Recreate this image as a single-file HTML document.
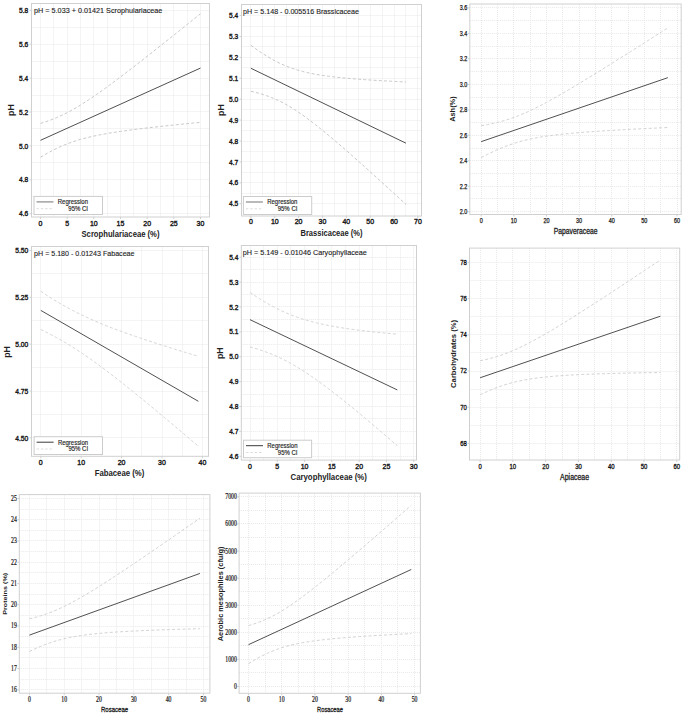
<!DOCTYPE html>
<html><head><meta charset="utf-8"><style>
html,body{margin:0;padding:0;background:#fff;}
body{width:685px;height:714px;overflow:hidden;}
svg{display:block;}

</style></head><body>
<svg width="685" height="714" viewBox="0 0 685 714">
<rect width="685" height="714" fill="#fff"/>
<path d="M40.50 3.50V217.00M53.50 3.50V217.00M67.50 3.50V217.00M80.50 3.50V217.00M93.50 3.50V217.00M107.50 3.50V217.00M120.50 3.50V217.00M133.50 3.50V217.00M147.50 3.50V217.00M160.50 3.50V217.00M173.50 3.50V217.00M187.50 3.50V217.00M200.50 3.50V217.00M31.50 213.50H209.50M31.50 196.50H209.50M31.50 179.50H209.50M31.50 162.50H209.50M31.50 145.50H209.50M31.50 128.50H209.50M31.50 111.50H209.50M31.50 95.50H209.50M31.50 78.50H209.50M31.50 61.50H209.50M31.50 44.50H209.50M31.50 27.50H209.50M31.50 10.50H209.50" stroke="#e9e9e9" stroke-width="1" stroke-dasharray="1 1" fill="none"/>
<rect x="31.50" y="3.50" width="178.00" height="213.50" fill="none" stroke="#d0d0d0" stroke-width="1"/>
<path d="M40.50 217.00v2M67.17 217.00v2M93.83 217.00v2M120.50 217.00v2M147.17 217.00v2M173.83 217.00v2M200.50 217.00v2M31.50 213.70h-2M31.50 179.80h-2M31.50 145.90h-2M31.50 112.00h-2M31.50 78.10h-2M31.50 44.20h-2M31.50 10.30h-2" stroke="#d0d0d0" stroke-width="1" fill="none"/>
<text x="40.50" y="226.03" font-size="7.5" text-anchor="middle" font-weight="normal" fill="#1a1a1a" font-family="Liberation Sans" stroke="#1a1a1a" stroke-width="0.4" textLength="3.88" lengthAdjust="spacingAndGlyphs" >0</text>
<text x="67.17" y="226.03" font-size="7.5" text-anchor="middle" font-weight="normal" fill="#1a1a1a" font-family="Liberation Sans" stroke="#1a1a1a" stroke-width="0.4" textLength="3.88" lengthAdjust="spacingAndGlyphs" >5</text>
<text x="93.83" y="226.03" font-size="7.5" text-anchor="middle" font-weight="normal" fill="#1a1a1a" font-family="Liberation Sans" stroke="#1a1a1a" stroke-width="0.4" textLength="7.76" lengthAdjust="spacingAndGlyphs" >10</text>
<text x="120.50" y="226.03" font-size="7.5" text-anchor="middle" font-weight="normal" fill="#1a1a1a" font-family="Liberation Sans" stroke="#1a1a1a" stroke-width="0.4" textLength="7.76" lengthAdjust="spacingAndGlyphs" >15</text>
<text x="147.17" y="226.03" font-size="7.5" text-anchor="middle" font-weight="normal" fill="#1a1a1a" font-family="Liberation Sans" stroke="#1a1a1a" stroke-width="0.4" textLength="7.76" lengthAdjust="spacingAndGlyphs" >20</text>
<text x="173.83" y="226.03" font-size="7.5" text-anchor="middle" font-weight="normal" fill="#1a1a1a" font-family="Liberation Sans" stroke="#1a1a1a" stroke-width="0.4" textLength="7.76" lengthAdjust="spacingAndGlyphs" >25</text>
<text x="200.50" y="226.03" font-size="7.5" text-anchor="middle" font-weight="normal" fill="#1a1a1a" font-family="Liberation Sans" stroke="#1a1a1a" stroke-width="0.4" textLength="7.76" lengthAdjust="spacingAndGlyphs" >30</text>
<text x="28.20" y="216.32" font-size="7.5" text-anchor="end" font-weight="normal" fill="#1a1a1a" font-family="Liberation Sans" stroke="#1a1a1a" stroke-width="0.4" textLength="9.15" lengthAdjust="spacingAndGlyphs" >4.6</text>
<text x="28.20" y="182.42" font-size="7.5" text-anchor="end" font-weight="normal" fill="#1a1a1a" font-family="Liberation Sans" stroke="#1a1a1a" stroke-width="0.4" textLength="9.15" lengthAdjust="spacingAndGlyphs" >4.8</text>
<text x="28.20" y="148.52" font-size="7.5" text-anchor="end" font-weight="normal" fill="#1a1a1a" font-family="Liberation Sans" stroke="#1a1a1a" stroke-width="0.4" textLength="9.15" lengthAdjust="spacingAndGlyphs" >5.0</text>
<text x="28.20" y="114.62" font-size="7.5" text-anchor="end" font-weight="normal" fill="#1a1a1a" font-family="Liberation Sans" stroke="#1a1a1a" stroke-width="0.4" textLength="9.15" lengthAdjust="spacingAndGlyphs" >5.2</text>
<text x="28.20" y="80.72" font-size="7.5" text-anchor="end" font-weight="normal" fill="#1a1a1a" font-family="Liberation Sans" stroke="#1a1a1a" stroke-width="0.4" textLength="9.15" lengthAdjust="spacingAndGlyphs" >5.4</text>
<text x="28.20" y="46.83" font-size="7.5" text-anchor="end" font-weight="normal" fill="#1a1a1a" font-family="Liberation Sans" stroke="#1a1a1a" stroke-width="0.4" textLength="9.15" lengthAdjust="spacingAndGlyphs" >5.6</text>
<text x="28.20" y="12.93" font-size="7.5" text-anchor="end" font-weight="normal" fill="#1a1a1a" font-family="Liberation Sans" stroke="#1a1a1a" stroke-width="0.4" textLength="9.15" lengthAdjust="spacingAndGlyphs" >5.8</text>
<polyline points="40.50,123.39 43.17,122.57 45.83,121.71 48.50,120.79 51.17,119.81 53.83,118.77 56.50,117.68 59.17,116.52 61.83,115.29 64.50,114.01 67.17,112.66 69.83,111.25 72.50,109.78 75.17,108.26 77.83,106.69 80.50,105.06 83.17,103.40 85.83,101.69 88.50,99.94 91.17,98.15 93.83,96.34 96.50,94.49 99.17,92.62 101.83,90.73 104.50,88.81 107.17,86.87 109.83,84.91 112.50,82.94 115.17,80.96 117.83,78.95 120.50,76.94 123.17,74.92 125.83,72.88 128.50,70.84 131.17,68.78 133.83,66.72 136.50,64.65 139.17,62.58 141.83,60.50 144.50,58.41 147.17,56.32 149.83,54.22 152.50,52.12 155.17,50.01 157.83,47.90 160.50,45.78 163.17,43.67 165.83,41.54 168.50,39.42 171.17,37.29 173.83,35.16 176.50,33.03 179.17,30.89 181.83,28.76 184.50,26.62 187.17,24.48 189.83,22.33 192.50,20.19 195.17,18.04 197.83,15.89 200.50,13.74" fill="none" stroke="#c8c8c8" stroke-width="1" stroke-dasharray="3 2.2"/>
<polyline points="40.50,157.23 43.17,155.63 45.83,154.09 48.50,152.60 51.17,151.17 53.83,149.80 56.50,148.48 59.17,147.24 61.83,146.05 64.50,144.93 67.17,143.87 69.83,142.87 72.50,141.93 75.17,141.04 77.83,140.21 80.50,139.42 83.17,138.68 85.83,137.98 88.50,137.32 91.17,136.70 93.83,136.10 96.50,135.54 99.17,135.00 101.83,134.49 104.50,134.00 107.17,133.53 109.83,133.07 112.50,132.64 115.17,132.22 117.83,131.81 120.50,131.41 123.17,131.03 125.83,130.66 128.50,130.29 131.17,129.94 133.83,129.59 136.50,129.25 139.17,128.92 141.83,128.59 144.50,128.27 147.17,127.95 149.83,127.64 152.50,127.34 155.17,127.03 157.83,126.74 160.50,126.44 163.17,126.15 165.83,125.87 168.50,125.58 171.17,125.30 173.83,125.02 176.50,124.75 179.17,124.47 181.83,124.20 184.50,123.93 187.17,123.66 189.83,123.40 192.50,123.14 195.17,122.87 197.83,122.61 200.50,122.35" fill="none" stroke="#c8c8c8" stroke-width="1" stroke-dasharray="3 2.2"/>
<line x1="40.50" y1="140.31" x2="200.50" y2="68.05" stroke="#505050" stroke-width="1"/>
<text x="34.10" y="13.10" font-size="8.1" text-anchor="start" font-weight="normal" fill="#1a1a1a" font-family="Liberation Sans" stroke="#1a1a1a" stroke-width="0.12" textLength="128.30" lengthAdjust="spacingAndGlyphs" >pH = 5.033 + 0.01421 Scrophulariaceae</text>
<rect x="34.00" y="196.40" width="68.50" height="18.10" fill="#fff" stroke="#cccccc" stroke-width="1"/>
<line x1="36.50" y1="201.90" x2="53.50" y2="201.90" stroke="#8a8a8a" stroke-width="1.2"/>
<line x1="36.50" y1="208.70" x2="53.50" y2="208.70" stroke="#dcdcdc" stroke-width="1" stroke-dasharray="2.5 1.8"/>
<text x="88.00" y="204.30" font-size="6.6" text-anchor="end" font-weight="normal" fill="#222" font-family="Liberation Sans" stroke="#222" stroke-width="0.15" textLength="30.20" lengthAdjust="spacingAndGlyphs" >Regression</text>
<text x="88.00" y="211.00" font-size="6.6" text-anchor="end" font-weight="normal" fill="#222" font-family="Liberation Sans" stroke="#222" stroke-width="0.15" textLength="19.70" lengthAdjust="spacingAndGlyphs" >95% CI</text>
<text x="120.50" y="237.00" font-size="9" text-anchor="middle" font-weight="bold" fill="#222" font-family="Liberation Sans" textLength="78.00" lengthAdjust="spacingAndGlyphs" >Scrophulariaceae (%)</text>
<text x="13.60" y="110.00" font-size="8.8" text-anchor="middle" font-weight="bold" fill="#222" font-family="Liberation Sans" transform="rotate(-90 13.60 110.00)" >pH</text>
<path d="M250.50 4.50V216.00M262.50 4.50V216.00M274.50 4.50V216.00M286.50 4.50V216.00M298.50 4.50V216.00M310.50 4.50V216.00M322.50 4.50V216.00M334.50 4.50V216.00M346.50 4.50V216.00M358.50 4.50V216.00M370.50 4.50V216.00M382.50 4.50V216.00M394.50 4.50V216.00M405.50 4.50V216.00M417.50 4.50V216.00M241.50 203.50H421.50M241.50 193.50H421.50M241.50 182.50H421.50M241.50 172.50H421.50M241.50 161.50H421.50M241.50 151.50H421.50M241.50 141.50H421.50M241.50 130.50H421.50M241.50 120.50H421.50M241.50 109.50H421.50M241.50 99.50H421.50M241.50 88.50H421.50M241.50 78.50H421.50M241.50 67.50H421.50M241.50 57.50H421.50M241.50 46.50H421.50M241.50 36.50H421.50M241.50 26.50H421.50M241.50 15.50H421.50" stroke="#e9e9e9" stroke-width="1" stroke-dasharray="1 1" fill="none"/>
<rect x="241.50" y="4.50" width="180.00" height="211.50" fill="none" stroke="#d0d0d0" stroke-width="1"/>
<path d="M250.90 216.00v2M274.76 216.00v2M298.61 216.00v2M322.47 216.00v2M346.33 216.00v2M370.19 216.00v2M394.04 216.00v2M417.90 216.00v2M241.50 203.70h-2M241.50 182.80h-2M241.50 161.90h-2M241.50 141.00h-2M241.50 120.10h-2M241.50 99.20h-2M241.50 78.30h-2M241.50 57.40h-2M241.50 36.50h-2M241.50 15.60h-2" stroke="#d0d0d0" stroke-width="1" fill="none"/>
<text x="250.90" y="224.12" font-size="7.5" text-anchor="middle" font-weight="normal" fill="#1a1a1a" font-family="Liberation Sans" stroke="#1a1a1a" stroke-width="0.4" textLength="3.88" lengthAdjust="spacingAndGlyphs" >0</text>
<text x="274.76" y="224.12" font-size="7.5" text-anchor="middle" font-weight="normal" fill="#1a1a1a" font-family="Liberation Sans" stroke="#1a1a1a" stroke-width="0.4" textLength="7.76" lengthAdjust="spacingAndGlyphs" >10</text>
<text x="298.61" y="224.12" font-size="7.5" text-anchor="middle" font-weight="normal" fill="#1a1a1a" font-family="Liberation Sans" stroke="#1a1a1a" stroke-width="0.4" textLength="7.76" lengthAdjust="spacingAndGlyphs" >20</text>
<text x="322.47" y="224.12" font-size="7.5" text-anchor="middle" font-weight="normal" fill="#1a1a1a" font-family="Liberation Sans" stroke="#1a1a1a" stroke-width="0.4" textLength="7.76" lengthAdjust="spacingAndGlyphs" >30</text>
<text x="346.33" y="224.12" font-size="7.5" text-anchor="middle" font-weight="normal" fill="#1a1a1a" font-family="Liberation Sans" stroke="#1a1a1a" stroke-width="0.4" textLength="7.76" lengthAdjust="spacingAndGlyphs" >40</text>
<text x="370.19" y="224.12" font-size="7.5" text-anchor="middle" font-weight="normal" fill="#1a1a1a" font-family="Liberation Sans" stroke="#1a1a1a" stroke-width="0.4" textLength="7.76" lengthAdjust="spacingAndGlyphs" >50</text>
<text x="394.04" y="224.12" font-size="7.5" text-anchor="middle" font-weight="normal" fill="#1a1a1a" font-family="Liberation Sans" stroke="#1a1a1a" stroke-width="0.4" textLength="7.76" lengthAdjust="spacingAndGlyphs" >60</text>
<text x="417.90" y="224.12" font-size="7.5" text-anchor="middle" font-weight="normal" fill="#1a1a1a" font-family="Liberation Sans" stroke="#1a1a1a" stroke-width="0.4" textLength="7.76" lengthAdjust="spacingAndGlyphs" >70</text>
<text x="238.20" y="206.32" font-size="7.5" text-anchor="end" font-weight="normal" fill="#1a1a1a" font-family="Liberation Sans" stroke="#1a1a1a" stroke-width="0.4" textLength="9.15" lengthAdjust="spacingAndGlyphs" >4.5</text>
<text x="238.20" y="185.43" font-size="7.5" text-anchor="end" font-weight="normal" fill="#1a1a1a" font-family="Liberation Sans" stroke="#1a1a1a" stroke-width="0.4" textLength="9.15" lengthAdjust="spacingAndGlyphs" >4.6</text>
<text x="238.20" y="164.52" font-size="7.5" text-anchor="end" font-weight="normal" fill="#1a1a1a" font-family="Liberation Sans" stroke="#1a1a1a" stroke-width="0.4" textLength="9.15" lengthAdjust="spacingAndGlyphs" >4.7</text>
<text x="238.20" y="143.63" font-size="7.5" text-anchor="end" font-weight="normal" fill="#1a1a1a" font-family="Liberation Sans" stroke="#1a1a1a" stroke-width="0.4" textLength="9.15" lengthAdjust="spacingAndGlyphs" >4.8</text>
<text x="238.20" y="122.72" font-size="7.5" text-anchor="end" font-weight="normal" fill="#1a1a1a" font-family="Liberation Sans" stroke="#1a1a1a" stroke-width="0.4" textLength="9.15" lengthAdjust="spacingAndGlyphs" >4.9</text>
<text x="238.20" y="101.83" font-size="7.5" text-anchor="end" font-weight="normal" fill="#1a1a1a" font-family="Liberation Sans" stroke="#1a1a1a" stroke-width="0.4" textLength="9.15" lengthAdjust="spacingAndGlyphs" >5.0</text>
<text x="238.20" y="80.93" font-size="7.5" text-anchor="end" font-weight="normal" fill="#1a1a1a" font-family="Liberation Sans" stroke="#1a1a1a" stroke-width="0.4" textLength="9.15" lengthAdjust="spacingAndGlyphs" >5.1</text>
<text x="238.20" y="60.03" font-size="7.5" text-anchor="end" font-weight="normal" fill="#1a1a1a" font-family="Liberation Sans" stroke="#1a1a1a" stroke-width="0.4" textLength="9.15" lengthAdjust="spacingAndGlyphs" >5.2</text>
<text x="238.20" y="39.13" font-size="7.5" text-anchor="end" font-weight="normal" fill="#1a1a1a" font-family="Liberation Sans" stroke="#1a1a1a" stroke-width="0.4" textLength="9.15" lengthAdjust="spacingAndGlyphs" >5.3</text>
<text x="238.20" y="18.23" font-size="7.5" text-anchor="end" font-weight="normal" fill="#1a1a1a" font-family="Liberation Sans" stroke="#1a1a1a" stroke-width="0.4" textLength="9.15" lengthAdjust="spacingAndGlyphs" >5.4</text>
<polyline points="250.90,45.28 253.48,47.18 256.07,49.03 258.65,50.84 261.24,52.59 263.82,54.28 266.41,55.91 268.99,57.48 271.58,58.98 274.16,60.41 276.75,61.76 279.33,63.05 281.91,64.25 284.50,65.39 287.08,66.45 289.67,67.44 292.25,68.36 294.84,69.22 297.42,70.02 300.01,70.76 302.59,71.45 305.18,72.09 307.76,72.69 310.34,73.24 312.93,73.76 315.51,74.24 318.10,74.69 320.68,75.11 323.27,75.50 325.85,75.87 328.44,76.22 331.02,76.55 333.60,76.86 336.19,77.16 338.77,77.44 341.36,77.71 343.94,77.96 346.53,78.20 349.11,78.43 351.70,78.65 354.28,78.87 356.87,79.07 359.45,79.27 362.03,79.46 364.62,79.64 367.20,79.82 369.79,79.99 372.37,80.16 374.96,80.32 377.54,80.47 380.13,80.63 382.71,80.77 385.30,80.92 387.88,81.06 390.46,81.20 393.05,81.33 395.63,81.46 398.22,81.59 400.80,81.72 403.39,81.84 405.97,81.96" fill="none" stroke="#c8c8c8" stroke-width="1" stroke-dasharray="3 2.2"/>
<polyline points="250.90,91.25 253.48,91.85 256.07,92.50 258.65,93.19 261.24,93.94 263.82,94.74 266.41,95.61 268.99,96.54 271.58,97.54 274.16,98.61 276.75,99.75 279.33,100.97 281.91,102.26 284.50,103.62 287.08,105.06 289.67,106.56 292.25,108.14 294.84,109.78 297.42,111.47 300.01,113.23 302.59,115.04 305.18,116.90 307.76,118.80 310.34,120.75 312.93,122.73 315.51,124.75 318.10,126.79 320.68,128.87 323.27,130.97 325.85,133.10 328.44,135.25 331.02,137.42 333.60,139.60 336.19,141.81 338.77,144.02 341.36,146.25 343.94,148.50 346.53,150.75 349.11,153.02 351.70,155.30 354.28,157.58 356.87,159.87 359.45,162.18 362.03,164.48 364.62,166.80 367.20,169.12 369.79,171.45 372.37,173.78 374.96,176.11 377.54,178.46 380.13,180.80 382.71,183.15 385.30,185.50 387.88,187.86 390.46,190.22 393.05,192.58 395.63,194.95 398.22,197.32 400.80,199.69 403.39,202.07 405.97,204.44" fill="none" stroke="#c8c8c8" stroke-width="1" stroke-dasharray="3 2.2"/>
<line x1="250.90" y1="68.27" x2="405.97" y2="143.20" stroke="#505050" stroke-width="1"/>
<text x="243.00" y="13.50" font-size="8.1" text-anchor="start" font-weight="normal" fill="#1a1a1a" font-family="Liberation Sans" stroke="#1a1a1a" stroke-width="0.12" textLength="116.00" lengthAdjust="spacingAndGlyphs" >pH = 5.148 - 0.005516 Brassicaceae</text>
<rect x="243.40" y="196.50" width="68.30" height="18.00" fill="#fff" stroke="#cccccc" stroke-width="1"/>
<line x1="245.90" y1="202.00" x2="262.90" y2="202.00" stroke="#8a8a8a" stroke-width="1.2"/>
<line x1="245.90" y1="208.80" x2="262.90" y2="208.80" stroke="#dcdcdc" stroke-width="1" stroke-dasharray="2.5 1.8"/>
<text x="297.40" y="204.40" font-size="6.6" text-anchor="end" font-weight="normal" fill="#222" font-family="Liberation Sans" stroke="#222" stroke-width="0.15" textLength="30.20" lengthAdjust="spacingAndGlyphs" >Regression</text>
<text x="297.40" y="211.10" font-size="6.6" text-anchor="end" font-weight="normal" fill="#222" font-family="Liberation Sans" stroke="#222" stroke-width="0.15" textLength="19.70" lengthAdjust="spacingAndGlyphs" >95% CI</text>
<text x="331.50" y="235.50" font-size="9" text-anchor="middle" font-weight="bold" fill="#222" font-family="Liberation Sans" textLength="62.00" lengthAdjust="spacingAndGlyphs" >Brassicaceae (%)</text>
<text x="223.80" y="110.00" font-size="8.8" text-anchor="middle" font-weight="bold" fill="#222" font-family="Liberation Sans" transform="rotate(-90 223.80 110.00)" >pH</text>
<path d="M481.50 4.00V214.50M497.50 4.00V214.50M513.50 4.00V214.50M530.50 4.00V214.50M546.50 4.00V214.50M562.50 4.00V214.50M579.50 4.00V214.50M595.50 4.00V214.50M611.50 4.00V214.50M628.50 4.00V214.50M644.50 4.00V214.50M660.50 4.00V214.50M677.50 4.00V214.50M469.80 211.50H681.20M469.80 198.50H681.20M469.80 186.50H681.20M469.80 173.50H681.20M469.80 160.50H681.20M469.80 148.50H681.20M469.80 135.50H681.20M469.80 122.50H681.20M469.80 109.50H681.20M469.80 97.50H681.20M469.80 84.50H681.20M469.80 71.50H681.20M469.80 58.50H681.20M469.80 46.50H681.20M469.80 33.50H681.20M469.80 20.50H681.20M469.80 7.50H681.20" stroke="#e9e9e9" stroke-width="1" stroke-dasharray="1 1" fill="none"/>
<rect x="469.80" y="4.00" width="211.40" height="210.50" fill="none" stroke="#d0d0d0" stroke-width="1"/>
<path d="M481.20 214.50v2M513.83 214.50v2M546.47 214.50v2M579.10 214.50v2M611.73 214.50v2M644.37 214.50v2M677.00 214.50v2M469.80 211.70h-2M469.80 186.22h-2M469.80 160.75h-2M469.80 135.27h-2M469.80 109.80h-2M469.80 84.33h-2M469.80 58.85h-2M469.80 33.38h-2M469.80 7.90h-2" stroke="#d0d0d0" stroke-width="1" fill="none"/>
<text x="481.20" y="223.12" font-size="7.2" text-anchor="middle" font-weight="normal" fill="#111" font-family="Liberation Sans" stroke="#111" stroke-width="0.25" textLength="3.04" lengthAdjust="spacingAndGlyphs" >0</text>
<text x="513.83" y="223.12" font-size="7.2" text-anchor="middle" font-weight="normal" fill="#111" font-family="Liberation Sans" stroke="#111" stroke-width="0.25" textLength="6.08" lengthAdjust="spacingAndGlyphs" >10</text>
<text x="546.47" y="223.12" font-size="7.2" text-anchor="middle" font-weight="normal" fill="#111" font-family="Liberation Sans" stroke="#111" stroke-width="0.25" textLength="6.08" lengthAdjust="spacingAndGlyphs" >20</text>
<text x="579.10" y="223.12" font-size="7.2" text-anchor="middle" font-weight="normal" fill="#111" font-family="Liberation Sans" stroke="#111" stroke-width="0.25" textLength="6.08" lengthAdjust="spacingAndGlyphs" >30</text>
<text x="611.73" y="223.12" font-size="7.2" text-anchor="middle" font-weight="normal" fill="#111" font-family="Liberation Sans" stroke="#111" stroke-width="0.25" textLength="6.08" lengthAdjust="spacingAndGlyphs" >40</text>
<text x="644.37" y="223.12" font-size="7.2" text-anchor="middle" font-weight="normal" fill="#111" font-family="Liberation Sans" stroke="#111" stroke-width="0.25" textLength="6.08" lengthAdjust="spacingAndGlyphs" >50</text>
<text x="677.00" y="223.12" font-size="7.2" text-anchor="middle" font-weight="normal" fill="#111" font-family="Liberation Sans" stroke="#111" stroke-width="0.25" textLength="6.08" lengthAdjust="spacingAndGlyphs" >60</text>
<text x="467.30" y="214.22" font-size="7.2" text-anchor="end" font-weight="normal" fill="#111" font-family="Liberation Sans" stroke="#111" stroke-width="0.25" textLength="7.56" lengthAdjust="spacingAndGlyphs" >2.0</text>
<text x="467.30" y="188.74" font-size="7.2" text-anchor="end" font-weight="normal" fill="#111" font-family="Liberation Sans" stroke="#111" stroke-width="0.25" textLength="7.56" lengthAdjust="spacingAndGlyphs" >2.2</text>
<text x="467.30" y="163.27" font-size="7.2" text-anchor="end" font-weight="normal" fill="#111" font-family="Liberation Sans" stroke="#111" stroke-width="0.25" textLength="7.56" lengthAdjust="spacingAndGlyphs" >2.4</text>
<text x="467.30" y="137.79" font-size="7.2" text-anchor="end" font-weight="normal" fill="#111" font-family="Liberation Sans" stroke="#111" stroke-width="0.25" textLength="7.56" lengthAdjust="spacingAndGlyphs" >2.6</text>
<text x="467.30" y="112.32" font-size="7.2" text-anchor="end" font-weight="normal" fill="#111" font-family="Liberation Sans" stroke="#111" stroke-width="0.25" textLength="7.56" lengthAdjust="spacingAndGlyphs" >2.8</text>
<text x="467.30" y="86.84" font-size="7.2" text-anchor="end" font-weight="normal" fill="#111" font-family="Liberation Sans" stroke="#111" stroke-width="0.25" textLength="7.56" lengthAdjust="spacingAndGlyphs" >3.0</text>
<text x="467.30" y="61.37" font-size="7.2" text-anchor="end" font-weight="normal" fill="#111" font-family="Liberation Sans" stroke="#111" stroke-width="0.25" textLength="7.56" lengthAdjust="spacingAndGlyphs" >3.2</text>
<text x="467.30" y="35.90" font-size="7.2" text-anchor="end" font-weight="normal" fill="#111" font-family="Liberation Sans" stroke="#111" stroke-width="0.25" textLength="7.56" lengthAdjust="spacingAndGlyphs" >3.4</text>
<text x="467.30" y="10.42" font-size="7.2" text-anchor="end" font-weight="normal" fill="#111" font-family="Liberation Sans" stroke="#111" stroke-width="0.25" textLength="7.56" lengthAdjust="spacingAndGlyphs" >3.6</text>
<polyline points="481.20,125.74 484.31,125.20 487.42,124.63 490.53,124.01 493.64,123.34 496.76,122.61 499.87,121.82 502.98,120.97 506.09,120.05 509.20,119.07 512.31,118.01 515.42,116.89 518.53,115.69 521.64,114.43 524.75,113.10 527.87,111.72 530.98,110.27 534.09,108.77 537.20,107.23 540.31,105.64 543.42,104.02 546.53,102.35 549.64,100.66 552.75,98.94 555.87,97.19 558.98,95.42 562.09,93.62 565.20,91.81 568.31,89.99 571.42,88.15 574.53,86.29 577.64,84.42 580.75,82.55 583.86,80.66 586.98,78.76 590.09,76.86 593.20,74.95 596.31,73.03 599.42,71.10 602.53,69.17 605.64,67.24 608.75,65.29 611.86,63.35 614.97,61.40 618.09,59.45 621.20,57.49 624.31,55.53 627.42,53.57 630.53,51.60 633.64,49.64 636.75,47.66 639.86,45.69 642.97,43.72 646.09,41.74 649.20,39.76 652.31,37.78 655.42,35.80 658.53,33.81 661.64,31.83 664.75,29.84 667.86,27.85" fill="none" stroke="#d3d3d3" stroke-width="1" stroke-dasharray="3 2.2"/>
<polyline points="481.20,157.55 484.31,155.95 487.42,154.39 490.53,152.88 493.64,151.42 496.76,150.02 499.87,148.67 502.98,147.39 506.09,146.17 509.20,145.03 512.31,143.95 515.42,142.94 518.53,142.01 521.64,141.14 524.75,140.33 527.87,139.59 530.98,138.90 534.09,138.26 537.20,137.68 540.31,137.13 543.42,136.63 546.53,136.16 549.64,135.72 552.75,135.31 555.87,134.92 558.98,134.56 562.09,134.22 565.20,133.90 568.31,133.60 571.42,133.30 574.53,133.03 577.64,132.76 580.75,132.51 583.86,132.26 586.98,132.03 590.09,131.80 593.20,131.58 596.31,131.36 599.42,131.16 602.53,130.96 605.64,130.76 608.75,130.57 611.86,130.38 614.97,130.20 618.09,130.02 621.20,129.84 624.31,129.67 627.42,129.50 630.53,129.33 633.64,129.17 636.75,129.01 639.86,128.85 642.97,128.69 646.09,128.53 649.20,128.38 652.31,128.23 655.42,128.08 658.53,127.93 661.64,127.78 664.75,127.64 667.86,127.49" fill="none" stroke="#d3d3d3" stroke-width="1" stroke-dasharray="3 2.2"/>
<line x1="481.20" y1="141.64" x2="667.86" y2="77.67" stroke="#505050" stroke-width="1"/>
<text x="575.60" y="234.00" font-size="8.2" text-anchor="middle" font-weight="normal" fill="#222" font-family="Liberation Sans" stroke="#222" stroke-width="0.3" textLength="43.70" lengthAdjust="spacingAndGlyphs" >Papaveraceae</text>
<text x="455.50" y="109.10" font-size="7.4" text-anchor="middle" font-weight="bold" fill="#222" font-family="Liberation Sans" textLength="25.50" lengthAdjust="spacingAndGlyphs" transform="rotate(-90 455.50 109.10)" >Ash(%)</text>
<path d="M40.50 246.50V456.30M61.50 246.50V456.30M81.50 246.50V456.30M101.50 246.50V456.30M121.50 246.50V456.30M141.50 246.50V456.30M162.50 246.50V456.30M182.50 246.50V456.30M202.50 246.50V456.30M31.50 437.50H208.50M31.50 414.50H208.50M31.50 391.50H208.50M31.50 367.50H208.50M31.50 344.50H208.50M31.50 320.50H208.50M31.50 297.50H208.50M31.50 273.50H208.50M31.50 250.50H208.50" stroke="#e9e9e9" stroke-width="1" stroke-dasharray="1 1" fill="none"/>
<rect x="31.50" y="246.50" width="177.00" height="209.80" fill="none" stroke="#d0d0d0" stroke-width="1"/>
<path d="M40.80 456.30v2M81.20 456.30v2M121.60 456.30v2M162.00 456.30v2M202.40 456.30v2M31.50 437.90h-2M31.50 391.02h-2M31.50 344.15h-2M31.50 297.27h-2M31.50 250.40h-2" stroke="#d0d0d0" stroke-width="1" fill="none"/>
<text x="40.80" y="465.23" font-size="7.5" text-anchor="middle" font-weight="normal" fill="#1a1a1a" font-family="Liberation Sans" stroke="#1a1a1a" stroke-width="0.4" textLength="3.88" lengthAdjust="spacingAndGlyphs" >0</text>
<text x="81.20" y="465.23" font-size="7.5" text-anchor="middle" font-weight="normal" fill="#1a1a1a" font-family="Liberation Sans" stroke="#1a1a1a" stroke-width="0.4" textLength="7.76" lengthAdjust="spacingAndGlyphs" >10</text>
<text x="121.60" y="465.23" font-size="7.5" text-anchor="middle" font-weight="normal" fill="#1a1a1a" font-family="Liberation Sans" stroke="#1a1a1a" stroke-width="0.4" textLength="7.76" lengthAdjust="spacingAndGlyphs" >20</text>
<text x="162.00" y="465.23" font-size="7.5" text-anchor="middle" font-weight="normal" fill="#1a1a1a" font-family="Liberation Sans" stroke="#1a1a1a" stroke-width="0.4" textLength="7.76" lengthAdjust="spacingAndGlyphs" >30</text>
<text x="202.40" y="465.23" font-size="7.5" text-anchor="middle" font-weight="normal" fill="#1a1a1a" font-family="Liberation Sans" stroke="#1a1a1a" stroke-width="0.4" textLength="7.76" lengthAdjust="spacingAndGlyphs" >40</text>
<text x="28.20" y="440.52" font-size="7.5" text-anchor="end" font-weight="normal" fill="#1a1a1a" font-family="Liberation Sans" stroke="#1a1a1a" stroke-width="0.4" textLength="13.03" lengthAdjust="spacingAndGlyphs" >4.50</text>
<text x="28.20" y="393.65" font-size="7.5" text-anchor="end" font-weight="normal" fill="#1a1a1a" font-family="Liberation Sans" stroke="#1a1a1a" stroke-width="0.4" textLength="13.03" lengthAdjust="spacingAndGlyphs" >4.75</text>
<text x="28.20" y="346.77" font-size="7.5" text-anchor="end" font-weight="normal" fill="#1a1a1a" font-family="Liberation Sans" stroke="#1a1a1a" stroke-width="0.4" textLength="13.03" lengthAdjust="spacingAndGlyphs" >5.00</text>
<text x="28.20" y="299.90" font-size="7.5" text-anchor="end" font-weight="normal" fill="#1a1a1a" font-family="Liberation Sans" stroke="#1a1a1a" stroke-width="0.4" textLength="13.03" lengthAdjust="spacingAndGlyphs" >5.25</text>
<text x="28.20" y="253.03" font-size="7.5" text-anchor="end" font-weight="normal" fill="#1a1a1a" font-family="Liberation Sans" stroke="#1a1a1a" stroke-width="0.4" textLength="13.03" lengthAdjust="spacingAndGlyphs" >5.50</text>
<polyline points="40.80,291.27 43.43,293.04 46.05,294.77 48.68,296.47 51.30,298.13 53.93,299.77 56.56,301.37 59.18,302.93 61.81,304.47 64.43,305.96 67.06,307.43 69.69,308.85 72.31,310.25 74.94,311.61 77.56,312.94 80.19,314.24 82.82,315.51 85.44,316.74 88.07,317.95 90.69,319.14 93.32,320.30 95.95,321.43 98.57,322.54 101.20,323.64 103.82,324.71 106.45,325.76 109.08,326.79 111.70,327.81 114.33,328.81 116.95,329.80 119.58,330.77 122.21,331.73 124.83,332.67 127.46,333.61 130.08,334.54 132.71,335.45 135.34,336.36 137.96,337.26 140.59,338.15 143.21,339.03 145.84,339.90 148.47,340.77 151.09,341.63 153.72,342.49 156.34,343.34 158.97,344.18 161.60,345.02 164.22,345.85 166.85,346.68 169.47,347.51 172.10,348.33 174.73,349.15 177.35,349.97 179.98,350.78 182.60,351.58 185.23,352.39 187.86,353.19 190.48,353.99 193.11,354.79 195.73,355.58 198.36,356.37" fill="none" stroke="#d6d6d6" stroke-width="1" stroke-dasharray="3 2.2"/>
<polyline points="40.80,329.53 43.43,330.79 46.05,332.09 48.68,333.42 51.30,334.79 53.93,336.18 56.56,337.61 59.18,339.07 61.81,340.57 64.43,342.10 67.06,343.67 69.69,345.27 72.31,346.91 74.94,348.58 77.56,350.28 80.19,352.01 82.82,353.77 85.44,355.56 88.07,357.38 90.69,359.23 93.32,361.10 95.95,362.99 98.57,364.91 101.20,366.85 103.82,368.81 106.45,370.79 109.08,372.78 111.70,374.80 114.33,376.83 116.95,378.87 119.58,380.93 122.21,383.00 124.83,385.08 127.46,387.17 130.08,389.28 132.71,391.39 135.34,393.51 137.96,395.65 140.59,397.79 143.21,399.94 145.84,402.09 148.47,404.25 151.09,406.42 153.72,408.60 156.34,410.78 158.97,412.96 161.60,415.15 164.22,417.35 166.85,419.55 169.47,421.75 172.10,423.96 174.73,426.17 177.35,428.38 179.98,430.60 182.60,432.82 185.23,435.05 187.86,437.28 190.48,439.51 193.11,441.74 195.73,443.98 198.36,446.21" fill="none" stroke="#d6d6d6" stroke-width="1" stroke-dasharray="3 2.2"/>
<line x1="40.80" y1="310.40" x2="198.36" y2="401.29" stroke="#505050" stroke-width="1"/>
<text x="34.10" y="255.80" font-size="8.1" text-anchor="start" font-weight="normal" fill="#1a1a1a" font-family="Liberation Sans" stroke="#1a1a1a" stroke-width="0.12" textLength="100.40" lengthAdjust="spacingAndGlyphs" >pH = 5.180 - 0.01243 Fabaceae</text>
<rect x="34.10" y="436.70" width="68.40" height="17.80" fill="#fff" stroke="#cccccc" stroke-width="1"/>
<line x1="36.60" y1="442.20" x2="53.60" y2="442.20" stroke="#3a3a3a" stroke-width="1"/>
<line x1="36.60" y1="449.00" x2="53.60" y2="449.00" stroke="#dcdcdc" stroke-width="1" stroke-dasharray="2.5 1.8"/>
<text x="88.10" y="444.60" font-size="6.6" text-anchor="end" font-weight="normal" fill="#222" font-family="Liberation Sans" stroke="#222" stroke-width="0.15" textLength="30.20" lengthAdjust="spacingAndGlyphs" >Regression</text>
<text x="88.10" y="451.30" font-size="6.6" text-anchor="end" font-weight="normal" fill="#222" font-family="Liberation Sans" stroke="#222" stroke-width="0.15" textLength="19.70" lengthAdjust="spacingAndGlyphs" >95% CI</text>
<text x="119.50" y="476.40" font-size="9" text-anchor="middle" font-weight="bold" fill="#222" font-family="Liberation Sans" textLength="49.60" lengthAdjust="spacingAndGlyphs" >Fabaceae (%)</text>
<text x="9.90" y="351.90" font-size="8.8" text-anchor="middle" font-weight="bold" fill="#222" font-family="Liberation Sans" transform="rotate(-90 9.90 351.90)" >pH</text>
<path d="M250.50 245.50V460.10M263.50 245.50V460.10M277.50 245.50V460.10M290.50 245.50V460.10M304.50 245.50V460.10M318.50 245.50V460.10M331.50 245.50V460.10M345.50 245.50V460.10M359.50 245.50V460.10M372.50 245.50V460.10M386.50 245.50V460.10M400.50 245.50V460.10M413.50 245.50V460.10M241.30 456.50H416.50M241.30 443.50H416.50M241.30 431.50H416.50M241.30 418.50H416.50M241.30 406.50H416.50M241.30 394.50H416.50M241.30 381.50H416.50M241.30 369.50H416.50M241.30 356.50H416.50M241.30 344.50H416.50M241.30 331.50H416.50M241.30 319.50H416.50M241.30 306.50H416.50M241.30 294.50H416.50M241.30 282.50H416.50M241.30 269.50H416.50M241.30 257.50H416.50" stroke="#e9e9e9" stroke-width="1" stroke-dasharray="1 1" fill="none"/>
<rect x="241.30" y="245.50" width="175.20" height="214.60" fill="none" stroke="#d0d0d0" stroke-width="1"/>
<path d="M250.00 460.10v2M277.28 460.10v2M304.57 460.10v2M331.85 460.10v2M359.13 460.10v2M386.42 460.10v2M413.70 460.10v2M241.30 456.30h-2M241.30 431.41h-2M241.30 406.52h-2M241.30 381.64h-2M241.30 356.75h-2M241.30 331.86h-2M241.30 306.98h-2M241.30 282.09h-2M241.30 257.20h-2" stroke="#d0d0d0" stroke-width="1" fill="none"/>
<text x="250.00" y="469.23" font-size="7.5" text-anchor="middle" font-weight="normal" fill="#1a1a1a" font-family="Liberation Sans" stroke="#1a1a1a" stroke-width="0.4" textLength="3.88" lengthAdjust="spacingAndGlyphs" >0</text>
<text x="277.28" y="469.23" font-size="7.5" text-anchor="middle" font-weight="normal" fill="#1a1a1a" font-family="Liberation Sans" stroke="#1a1a1a" stroke-width="0.4" textLength="3.88" lengthAdjust="spacingAndGlyphs" >5</text>
<text x="304.57" y="469.23" font-size="7.5" text-anchor="middle" font-weight="normal" fill="#1a1a1a" font-family="Liberation Sans" stroke="#1a1a1a" stroke-width="0.4" textLength="7.76" lengthAdjust="spacingAndGlyphs" >10</text>
<text x="331.85" y="469.23" font-size="7.5" text-anchor="middle" font-weight="normal" fill="#1a1a1a" font-family="Liberation Sans" stroke="#1a1a1a" stroke-width="0.4" textLength="7.76" lengthAdjust="spacingAndGlyphs" >15</text>
<text x="359.13" y="469.23" font-size="7.5" text-anchor="middle" font-weight="normal" fill="#1a1a1a" font-family="Liberation Sans" stroke="#1a1a1a" stroke-width="0.4" textLength="7.76" lengthAdjust="spacingAndGlyphs" >20</text>
<text x="386.42" y="469.23" font-size="7.5" text-anchor="middle" font-weight="normal" fill="#1a1a1a" font-family="Liberation Sans" stroke="#1a1a1a" stroke-width="0.4" textLength="7.76" lengthAdjust="spacingAndGlyphs" >25</text>
<text x="413.70" y="469.23" font-size="7.5" text-anchor="middle" font-weight="normal" fill="#1a1a1a" font-family="Liberation Sans" stroke="#1a1a1a" stroke-width="0.4" textLength="7.76" lengthAdjust="spacingAndGlyphs" >30</text>
<text x="238.30" y="458.93" font-size="7.5" text-anchor="end" font-weight="normal" fill="#1a1a1a" font-family="Liberation Sans" stroke="#1a1a1a" stroke-width="0.4" textLength="9.15" lengthAdjust="spacingAndGlyphs" >4.6</text>
<text x="238.30" y="434.04" font-size="7.5" text-anchor="end" font-weight="normal" fill="#1a1a1a" font-family="Liberation Sans" stroke="#1a1a1a" stroke-width="0.4" textLength="9.15" lengthAdjust="spacingAndGlyphs" >4.7</text>
<text x="238.30" y="409.15" font-size="7.5" text-anchor="end" font-weight="normal" fill="#1a1a1a" font-family="Liberation Sans" stroke="#1a1a1a" stroke-width="0.4" textLength="9.15" lengthAdjust="spacingAndGlyphs" >4.8</text>
<text x="238.30" y="384.26" font-size="7.5" text-anchor="end" font-weight="normal" fill="#1a1a1a" font-family="Liberation Sans" stroke="#1a1a1a" stroke-width="0.4" textLength="9.15" lengthAdjust="spacingAndGlyphs" >4.9</text>
<text x="238.30" y="359.38" font-size="7.5" text-anchor="end" font-weight="normal" fill="#1a1a1a" font-family="Liberation Sans" stroke="#1a1a1a" stroke-width="0.4" textLength="9.15" lengthAdjust="spacingAndGlyphs" >5.0</text>
<text x="238.30" y="334.49" font-size="7.5" text-anchor="end" font-weight="normal" fill="#1a1a1a" font-family="Liberation Sans" stroke="#1a1a1a" stroke-width="0.4" textLength="9.15" lengthAdjust="spacingAndGlyphs" >5.1</text>
<text x="238.30" y="309.60" font-size="7.5" text-anchor="end" font-weight="normal" fill="#1a1a1a" font-family="Liberation Sans" stroke="#1a1a1a" stroke-width="0.4" textLength="9.15" lengthAdjust="spacingAndGlyphs" >5.2</text>
<text x="238.30" y="284.71" font-size="7.5" text-anchor="end" font-weight="normal" fill="#1a1a1a" font-family="Liberation Sans" stroke="#1a1a1a" stroke-width="0.4" textLength="9.15" lengthAdjust="spacingAndGlyphs" >5.3</text>
<text x="238.30" y="259.82" font-size="7.5" text-anchor="end" font-weight="normal" fill="#1a1a1a" font-family="Liberation Sans" stroke="#1a1a1a" stroke-width="0.4" textLength="9.15" lengthAdjust="spacingAndGlyphs" >5.4</text>
<polyline points="250.00,292.42 252.46,294.08 254.91,295.71 257.37,297.31 259.82,298.86 262.28,300.38 264.73,301.86 267.19,303.30 269.64,304.70 272.10,306.05 274.56,307.35 277.01,308.61 279.47,309.82 281.92,310.99 284.38,312.11 286.83,313.18 289.29,314.21 291.74,315.19 294.20,316.13 296.65,317.02 299.11,317.87 301.57,318.69 304.02,319.46 306.48,320.20 308.93,320.91 311.39,321.58 313.84,322.22 316.30,322.83 318.75,323.41 321.21,323.97 323.66,324.50 326.12,325.01 328.58,325.49 331.03,325.96 333.49,326.41 335.94,326.84 338.40,327.26 340.85,327.65 343.31,328.04 345.76,328.41 348.22,328.77 350.68,329.11 353.13,329.45 355.59,329.77 358.04,330.09 360.50,330.39 362.95,330.69 365.41,330.98 367.86,331.26 370.32,331.54 372.77,331.80 375.23,332.06 377.69,332.32 380.14,332.57 382.60,332.81 385.05,333.05 387.51,333.28 389.96,333.51 392.42,333.74 394.87,333.96 397.33,334.18" fill="none" stroke="#d6d6d6" stroke-width="1" stroke-dasharray="3 2.2"/>
<polyline points="250.00,346.92 252.46,347.60 254.91,348.31 257.37,349.06 259.82,349.84 262.28,350.67 264.73,351.53 267.19,352.43 269.64,353.38 272.10,354.37 274.56,355.41 277.01,356.50 279.47,357.63 281.92,358.80 284.38,360.03 286.83,361.30 289.29,362.61 291.74,363.98 294.20,365.38 296.65,366.83 299.11,368.32 301.57,369.85 304.02,371.42 306.48,373.02 308.93,374.66 311.39,376.33 313.84,378.03 316.30,379.77 318.75,381.53 321.21,383.31 323.66,385.12 326.12,386.96 328.58,388.81 331.03,390.69 333.49,392.58 335.94,394.50 338.40,396.42 340.85,398.37 343.31,400.33 345.76,402.30 348.22,404.28 350.68,406.28 353.13,408.29 355.59,410.31 358.04,412.33 360.50,414.37 362.95,416.42 365.41,418.47 367.86,420.53 370.32,422.60 372.77,424.68 375.23,426.76 377.69,428.85 380.14,430.94 382.60,433.04 385.05,435.14 387.51,437.25 389.96,439.37 392.42,441.49 394.87,443.61 397.33,445.73" fill="none" stroke="#d6d6d6" stroke-width="1" stroke-dasharray="3 2.2"/>
<line x1="250.00" y1="319.67" x2="397.33" y2="389.95" stroke="#505050" stroke-width="1"/>
<text x="242.70" y="254.60" font-size="8.1" text-anchor="start" font-weight="normal" fill="#1a1a1a" font-family="Liberation Sans" stroke="#1a1a1a" stroke-width="0.12" textLength="124.20" lengthAdjust="spacingAndGlyphs" >pH = 5.149 - 0.01046 Caryophyllaceae</text>
<rect x="243.50" y="440.20" width="68.10" height="17.50" fill="#fff" stroke="#cccccc" stroke-width="1"/>
<line x1="246.00" y1="445.70" x2="263.00" y2="445.70" stroke="#3a3a3a" stroke-width="1"/>
<line x1="246.00" y1="452.50" x2="263.00" y2="452.50" stroke="#dcdcdc" stroke-width="1" stroke-dasharray="2.5 1.8"/>
<text x="297.50" y="448.10" font-size="6.6" text-anchor="end" font-weight="normal" fill="#222" font-family="Liberation Sans" stroke="#222" stroke-width="0.15" textLength="30.20" lengthAdjust="spacingAndGlyphs" >Regression</text>
<text x="297.50" y="454.80" font-size="6.6" text-anchor="end" font-weight="normal" fill="#222" font-family="Liberation Sans" stroke="#222" stroke-width="0.15" textLength="19.70" lengthAdjust="spacingAndGlyphs" >95% CI</text>
<text x="328.70" y="480.20" font-size="9" text-anchor="middle" font-weight="bold" fill="#222" font-family="Liberation Sans" textLength="76.40" lengthAdjust="spacingAndGlyphs" >Caryophyllaceae (%)</text>
<text x="223.50" y="353.20" font-size="8.8" text-anchor="middle" font-weight="bold" fill="#222" font-family="Liberation Sans" transform="rotate(-90 223.50 353.20)" >pH</text>
<path d="M480.50 248.10V460.00M496.50 248.10V460.00M512.50 248.10V460.00M529.50 248.10V460.00M545.50 248.10V460.00M562.50 248.10V460.00M578.50 248.10V460.00M594.50 248.10V460.00M611.50 248.10V460.00M627.50 248.10V460.00M644.50 248.10V460.00M660.50 248.10V460.00M676.50 248.10V460.00M469.50 443.50H679.70M469.50 425.50H679.70M469.50 407.50H679.70M469.50 389.50H679.70M469.50 371.50H679.70M469.50 352.50H679.70M469.50 334.50H679.70M469.50 316.50H679.70M469.50 298.50H679.70M469.50 280.50H679.70M469.50 262.50H679.70" stroke="#e9e9e9" stroke-width="1" stroke-dasharray="1 1" fill="none"/>
<rect x="469.50" y="248.10" width="210.20" height="211.90" fill="none" stroke="#d0d0d0" stroke-width="1"/>
<path d="M480.10 460.00v2M512.88 460.00v2M545.67 460.00v2M578.45 460.00v2M611.23 460.00v2M644.02 460.00v2M676.80 460.00v2M469.50 443.50h-2M469.50 407.28h-2M469.50 371.06h-2M469.50 334.84h-2M469.50 298.62h-2M469.50 262.40h-2" stroke="#d0d0d0" stroke-width="1" fill="none"/>
<text x="480.10" y="468.51" font-size="6.6" text-anchor="middle" font-weight="normal" fill="#111" font-family="Liberation Sans" stroke="#111" stroke-width="0.3" textLength="3.30" lengthAdjust="spacingAndGlyphs" >0</text>
<text x="512.88" y="468.51" font-size="6.6" text-anchor="middle" font-weight="normal" fill="#111" font-family="Liberation Sans" stroke="#111" stroke-width="0.3" textLength="6.61" lengthAdjust="spacingAndGlyphs" >10</text>
<text x="545.67" y="468.51" font-size="6.6" text-anchor="middle" font-weight="normal" fill="#111" font-family="Liberation Sans" stroke="#111" stroke-width="0.3" textLength="6.61" lengthAdjust="spacingAndGlyphs" >20</text>
<text x="578.45" y="468.51" font-size="6.6" text-anchor="middle" font-weight="normal" fill="#111" font-family="Liberation Sans" stroke="#111" stroke-width="0.3" textLength="6.61" lengthAdjust="spacingAndGlyphs" >30</text>
<text x="611.23" y="468.51" font-size="6.6" text-anchor="middle" font-weight="normal" fill="#111" font-family="Liberation Sans" stroke="#111" stroke-width="0.3" textLength="6.61" lengthAdjust="spacingAndGlyphs" >40</text>
<text x="644.02" y="468.51" font-size="6.6" text-anchor="middle" font-weight="normal" fill="#111" font-family="Liberation Sans" stroke="#111" stroke-width="0.3" textLength="6.61" lengthAdjust="spacingAndGlyphs" >50</text>
<text x="676.80" y="468.51" font-size="6.6" text-anchor="middle" font-weight="normal" fill="#111" font-family="Liberation Sans" stroke="#111" stroke-width="0.3" textLength="6.61" lengthAdjust="spacingAndGlyphs" >60</text>
<text x="466.90" y="445.81" font-size="6.6" text-anchor="end" font-weight="normal" fill="#111" font-family="Liberation Sans" stroke="#111" stroke-width="0.3" textLength="6.61" lengthAdjust="spacingAndGlyphs" >68</text>
<text x="466.90" y="409.59" font-size="6.6" text-anchor="end" font-weight="normal" fill="#111" font-family="Liberation Sans" stroke="#111" stroke-width="0.3" textLength="6.61" lengthAdjust="spacingAndGlyphs" >70</text>
<text x="466.90" y="373.37" font-size="6.6" text-anchor="end" font-weight="normal" fill="#111" font-family="Liberation Sans" stroke="#111" stroke-width="0.3" textLength="6.61" lengthAdjust="spacingAndGlyphs" >72</text>
<text x="466.90" y="337.15" font-size="6.6" text-anchor="end" font-weight="normal" fill="#111" font-family="Liberation Sans" stroke="#111" stroke-width="0.3" textLength="6.61" lengthAdjust="spacingAndGlyphs" >74</text>
<text x="466.90" y="300.93" font-size="6.6" text-anchor="end" font-weight="normal" fill="#111" font-family="Liberation Sans" stroke="#111" stroke-width="0.3" textLength="6.61" lengthAdjust="spacingAndGlyphs" >76</text>
<text x="466.90" y="264.71" font-size="6.6" text-anchor="end" font-weight="normal" fill="#111" font-family="Liberation Sans" stroke="#111" stroke-width="0.3" textLength="6.61" lengthAdjust="spacingAndGlyphs" >78</text>
<polyline points="480.10,360.74 483.11,360.12 486.11,359.44 489.12,358.71 492.12,357.92 495.13,357.06 498.13,356.14 501.14,355.15 504.14,354.09 507.15,352.96 510.15,351.77 513.16,350.52 516.16,349.20 519.17,347.83 522.17,346.40 525.18,344.92 528.18,343.39 531.19,341.82 534.19,340.21 537.20,338.57 540.20,336.89 543.21,335.19 546.21,333.45 549.22,331.69 552.22,329.92 555.23,328.12 558.23,326.30 561.24,324.46 564.24,322.62 567.25,320.75 570.25,318.88 573.26,316.99 576.26,315.10 579.27,313.19 582.27,311.28 585.28,309.36 588.28,307.43 591.29,305.49 594.30,303.55 597.30,301.60 600.31,299.65 603.31,297.69 606.32,295.73 609.32,293.76 612.33,291.79 615.33,289.82 618.34,287.84 621.34,285.86 624.35,283.88 627.35,281.89 630.36,279.90 633.36,277.91 636.37,275.91 639.37,273.92 642.38,271.92 645.38,269.92 648.39,267.92 651.39,265.91 654.40,263.91 657.40,261.90 660.41,259.89" fill="none" stroke="#d3d3d3" stroke-width="1" stroke-dasharray="3 2.2"/>
<polyline points="480.10,394.78 483.11,393.35 486.11,391.98 489.12,390.66 492.12,389.40 495.13,388.20 498.13,387.07 501.14,386.01 504.14,385.02 507.15,384.09 510.15,383.23 513.16,382.44 516.16,381.70 519.17,381.02 522.17,380.40 525.18,379.83 528.18,379.30 531.19,378.82 534.19,378.37 537.20,377.97 540.20,377.59 543.21,377.25 546.21,376.93 549.22,376.63 552.22,376.36 555.23,376.11 558.23,375.87 561.24,375.66 564.24,375.45 567.25,375.26 570.25,375.09 573.26,374.92 576.26,374.76 579.27,374.62 582.27,374.48 585.28,374.35 588.28,374.23 591.29,374.11 594.30,374.00 597.30,373.90 600.31,373.80 603.31,373.70 606.32,373.61 609.32,373.53 612.33,373.45 615.33,373.37 618.34,373.30 621.34,373.22 624.35,373.16 627.35,373.09 630.36,373.03 633.36,372.97 636.37,372.91 639.37,372.85 642.38,372.80 645.38,372.75 648.39,372.70 651.39,372.65 654.40,372.60 657.40,372.56 660.41,372.52" fill="none" stroke="#d3d3d3" stroke-width="1" stroke-dasharray="3 2.2"/>
<line x1="480.10" y1="377.76" x2="660.41" y2="316.20" stroke="#505050" stroke-width="1"/>
<text x="574.60" y="479.90" font-size="8.2" text-anchor="middle" font-weight="normal" fill="#222" font-family="Liberation Sans" stroke="#222" stroke-width="0.3" textLength="29.00" lengthAdjust="spacingAndGlyphs" >Apiaceae</text>
<text x="456.50" y="353.90" font-size="7.6" text-anchor="middle" font-weight="bold" fill="#222" font-family="Liberation Sans" textLength="68.00" lengthAdjust="spacingAndGlyphs" transform="rotate(-90 456.50 353.90)" >Carbohydrates (%)</text>
<path d="M29.50 494.60V693.20M46.50 494.60V693.20M64.50 494.60V693.20M81.50 494.60V693.20M99.50 494.60V693.20M116.50 494.60V693.20M133.50 494.60V693.20M151.50 494.60V693.20M168.50 494.60V693.20M186.50 494.60V693.20M203.50 494.60V693.20M19.30 689.50H209.90M19.30 679.50H209.90M19.30 668.50H209.90M19.30 657.50H209.90M19.30 647.50H209.90M19.30 636.50H209.90M19.30 626.50H209.90M19.30 615.50H209.90M19.30 604.50H209.90M19.30 594.50H209.90M19.30 583.50H209.90M19.30 572.50H209.90M19.30 562.50H209.90M19.30 551.50H209.90M19.30 540.50H209.90M19.30 530.50H209.90M19.30 519.50H209.90M19.30 509.50H209.90M19.30 498.50H209.90" stroke="#e9e9e9" stroke-width="1" stroke-dasharray="1 1" fill="none"/>
<rect x="19.30" y="494.60" width="190.60" height="198.60" fill="none" stroke="#d0d0d0" stroke-width="1"/>
<path d="M29.40 693.20v2M64.20 693.20v2M99.00 693.20v2M133.80 693.20v2M168.60 693.20v2M203.40 693.20v2M19.30 689.80h-2M19.30 668.53h-2M19.30 647.27h-2M19.30 626.00h-2M19.30 604.73h-2M19.30 583.47h-2M19.30 562.20h-2M19.30 540.93h-2M19.30 519.67h-2M19.30 498.40h-2" stroke="#d0d0d0" stroke-width="1" fill="none"/>
<text x="29.40" y="702.04" font-size="7.4" text-anchor="middle" font-weight="normal" fill="#111" font-family="Liberation Serif" stroke="#111" stroke-width="0.2" textLength="2.89" lengthAdjust="spacingAndGlyphs" >0</text>
<text x="64.20" y="702.04" font-size="7.4" text-anchor="middle" font-weight="normal" fill="#111" font-family="Liberation Serif" stroke="#111" stroke-width="0.2" textLength="5.77" lengthAdjust="spacingAndGlyphs" >10</text>
<text x="99.00" y="702.04" font-size="7.4" text-anchor="middle" font-weight="normal" fill="#111" font-family="Liberation Serif" stroke="#111" stroke-width="0.2" textLength="5.77" lengthAdjust="spacingAndGlyphs" >20</text>
<text x="133.80" y="702.04" font-size="7.4" text-anchor="middle" font-weight="normal" fill="#111" font-family="Liberation Serif" stroke="#111" stroke-width="0.2" textLength="5.77" lengthAdjust="spacingAndGlyphs" >30</text>
<text x="168.60" y="702.04" font-size="7.4" text-anchor="middle" font-weight="normal" fill="#111" font-family="Liberation Serif" stroke="#111" stroke-width="0.2" textLength="5.77" lengthAdjust="spacingAndGlyphs" >40</text>
<text x="203.40" y="702.04" font-size="7.4" text-anchor="middle" font-weight="normal" fill="#111" font-family="Liberation Serif" stroke="#111" stroke-width="0.2" textLength="5.77" lengthAdjust="spacingAndGlyphs" >50</text>
<text x="16.80" y="692.24" font-size="7.4" text-anchor="end" font-weight="normal" fill="#111" font-family="Liberation Serif" stroke="#111" stroke-width="0.2" textLength="5.77" lengthAdjust="spacingAndGlyphs" >16</text>
<text x="16.80" y="670.98" font-size="7.4" text-anchor="end" font-weight="normal" fill="#111" font-family="Liberation Serif" stroke="#111" stroke-width="0.2" textLength="5.77" lengthAdjust="spacingAndGlyphs" >17</text>
<text x="16.80" y="649.71" font-size="7.4" text-anchor="end" font-weight="normal" fill="#111" font-family="Liberation Serif" stroke="#111" stroke-width="0.2" textLength="5.77" lengthAdjust="spacingAndGlyphs" >18</text>
<text x="16.80" y="628.44" font-size="7.4" text-anchor="end" font-weight="normal" fill="#111" font-family="Liberation Serif" stroke="#111" stroke-width="0.2" textLength="5.77" lengthAdjust="spacingAndGlyphs" >19</text>
<text x="16.80" y="607.18" font-size="7.4" text-anchor="end" font-weight="normal" fill="#111" font-family="Liberation Serif" stroke="#111" stroke-width="0.2" textLength="5.77" lengthAdjust="spacingAndGlyphs" >20</text>
<text x="16.80" y="585.91" font-size="7.4" text-anchor="end" font-weight="normal" fill="#111" font-family="Liberation Serif" stroke="#111" stroke-width="0.2" textLength="5.77" lengthAdjust="spacingAndGlyphs" >21</text>
<text x="16.80" y="564.64" font-size="7.4" text-anchor="end" font-weight="normal" fill="#111" font-family="Liberation Serif" stroke="#111" stroke-width="0.2" textLength="5.77" lengthAdjust="spacingAndGlyphs" >22</text>
<text x="16.80" y="543.38" font-size="7.4" text-anchor="end" font-weight="normal" fill="#111" font-family="Liberation Serif" stroke="#111" stroke-width="0.2" textLength="5.77" lengthAdjust="spacingAndGlyphs" >23</text>
<text x="16.80" y="522.11" font-size="7.4" text-anchor="end" font-weight="normal" fill="#111" font-family="Liberation Serif" stroke="#111" stroke-width="0.2" textLength="5.77" lengthAdjust="spacingAndGlyphs" >24</text>
<text x="16.80" y="500.84" font-size="7.4" text-anchor="end" font-weight="normal" fill="#111" font-family="Liberation Serif" stroke="#111" stroke-width="0.2" textLength="5.77" lengthAdjust="spacingAndGlyphs" >25</text>
<polyline points="29.40,618.77 32.24,618.10 35.08,617.38 37.93,616.60 40.77,615.75 43.61,614.85 46.45,613.88 49.29,612.84 52.14,611.74 54.98,610.58 57.82,609.36 60.66,608.07 63.50,606.73 66.35,605.33 69.19,603.88 72.03,602.39 74.87,600.85 77.71,599.28 80.56,597.66 83.40,596.02 86.24,594.34 89.08,592.64 91.92,590.92 94.77,589.17 97.61,587.40 100.45,585.61 103.29,583.81 106.13,581.99 108.98,580.16 111.82,578.31 114.66,576.46 117.50,574.59 120.34,572.71 123.19,570.83 126.03,568.94 128.87,567.04 131.71,565.13 134.55,563.22 137.40,561.30 140.24,559.37 143.08,557.44 145.92,555.51 148.76,553.57 151.61,551.63 154.45,549.68 157.29,547.74 160.13,545.78 162.97,543.83 165.82,541.87 168.66,539.91 171.50,537.95 174.34,535.98 177.18,534.01 180.03,532.04 182.87,530.07 185.71,528.10 188.55,526.12 191.39,524.15 194.24,522.17 197.08,520.19 199.92,518.21" fill="none" stroke="#d3d3d3" stroke-width="1" stroke-dasharray="3 2.2"/>
<polyline points="29.40,651.52 32.24,650.13 35.08,648.80 37.93,647.52 40.77,646.31 43.61,645.16 46.45,644.07 49.29,643.05 52.14,642.09 54.98,641.20 57.82,640.37 60.66,639.60 63.50,638.89 66.35,638.23 69.19,637.62 72.03,637.05 74.87,636.54 77.71,636.06 80.56,635.61 83.40,635.20 86.24,634.82 89.08,634.46 91.92,634.13 94.77,633.83 97.61,633.54 100.45,633.27 103.29,633.02 106.13,632.78 108.98,632.55 111.82,632.34 114.66,632.14 117.50,631.95 120.34,631.77 123.19,631.60 126.03,631.44 128.87,631.28 131.71,631.13 134.55,630.99 137.40,630.85 140.24,630.72 143.08,630.59 145.92,630.47 148.76,630.35 151.61,630.24 154.45,630.13 157.29,630.02 160.13,629.91 162.97,629.81 165.82,629.71 168.66,629.62 171.50,629.53 174.34,629.44 177.18,629.35 180.03,629.26 182.87,629.18 185.71,629.09 188.55,629.01 191.39,628.93 194.24,628.85 197.08,628.78 199.92,628.70" fill="none" stroke="#d3d3d3" stroke-width="1" stroke-dasharray="3 2.2"/>
<line x1="29.40" y1="635.14" x2="199.92" y2="573.45" stroke="#505050" stroke-width="1"/>
<text x="114.60" y="711.70" font-size="7.6" text-anchor="middle" font-weight="normal" fill="#222" font-family="Liberation Sans" stroke="#222" stroke-width="0.3" textLength="27.20" lengthAdjust="spacingAndGlyphs" >Rosaceae</text>
<text x="7.00" y="593.80" font-size="6.1" text-anchor="middle" font-weight="bold" fill="#222" font-family="Liberation Sans" textLength="42.00" lengthAdjust="spacingAndGlyphs" transform="rotate(-90 7.00 593.80)" >Proteins (%)</text>
<path d="M248.50 493.10V693.30M265.50 493.10V693.30M281.50 493.10V693.30M298.50 493.10V693.30M314.50 493.10V693.30M331.50 493.10V693.30M348.50 493.10V693.30M364.50 493.10V693.30M381.50 493.10V693.30M397.50 493.10V693.30M414.50 493.10V693.30M239.10 686.50H420.40M239.10 672.50H420.40M239.10 659.50H420.40M239.10 645.50H420.40M239.10 632.50H420.40M239.10 618.50H420.40M239.10 605.50H420.40M239.10 591.50H420.40M239.10 578.50H420.40M239.10 564.50H420.40M239.10 551.50H420.40M239.10 537.50H420.40M239.10 523.50H420.40M239.10 510.50H420.40M239.10 496.50H420.40" stroke="#e9e9e9" stroke-width="1" stroke-dasharray="1 1" fill="none"/>
<rect x="239.10" y="493.10" width="181.30" height="200.20" fill="none" stroke="#d0d0d0" stroke-width="1"/>
<path d="M248.50 693.30v2M281.72 693.30v2M314.94 693.30v2M348.16 693.30v2M381.38 693.30v2M414.60 693.30v2M239.10 686.50h-2M239.10 659.41h-2M239.10 632.33h-2M239.10 605.24h-2M239.10 578.16h-2M239.10 551.07h-2M239.10 523.99h-2M239.10 496.90h-2" stroke="#d0d0d0" stroke-width="1" fill="none"/>
<text x="248.50" y="702.24" font-size="7.4" text-anchor="middle" font-weight="normal" fill="#111" font-family="Liberation Serif" stroke="#111" stroke-width="0.2" textLength="2.89" lengthAdjust="spacingAndGlyphs" >0</text>
<text x="281.72" y="702.24" font-size="7.4" text-anchor="middle" font-weight="normal" fill="#111" font-family="Liberation Serif" stroke="#111" stroke-width="0.2" textLength="5.77" lengthAdjust="spacingAndGlyphs" >10</text>
<text x="314.94" y="702.24" font-size="7.4" text-anchor="middle" font-weight="normal" fill="#111" font-family="Liberation Serif" stroke="#111" stroke-width="0.2" textLength="5.77" lengthAdjust="spacingAndGlyphs" >20</text>
<text x="348.16" y="702.24" font-size="7.4" text-anchor="middle" font-weight="normal" fill="#111" font-family="Liberation Serif" stroke="#111" stroke-width="0.2" textLength="5.77" lengthAdjust="spacingAndGlyphs" >30</text>
<text x="381.38" y="702.24" font-size="7.4" text-anchor="middle" font-weight="normal" fill="#111" font-family="Liberation Serif" stroke="#111" stroke-width="0.2" textLength="5.77" lengthAdjust="spacingAndGlyphs" >40</text>
<text x="414.60" y="702.24" font-size="7.4" text-anchor="middle" font-weight="normal" fill="#111" font-family="Liberation Serif" stroke="#111" stroke-width="0.2" textLength="5.77" lengthAdjust="spacingAndGlyphs" >50</text>
<text x="236.80" y="688.94" font-size="7.4" text-anchor="end" font-weight="normal" fill="#111" font-family="Liberation Serif" stroke="#111" stroke-width="0.2" textLength="2.89" lengthAdjust="spacingAndGlyphs" >0</text>
<text x="236.80" y="661.86" font-size="7.4" text-anchor="end" font-weight="normal" fill="#111" font-family="Liberation Serif" stroke="#111" stroke-width="0.2" textLength="11.54" lengthAdjust="spacingAndGlyphs" >1000</text>
<text x="236.80" y="634.77" font-size="7.4" text-anchor="end" font-weight="normal" fill="#111" font-family="Liberation Serif" stroke="#111" stroke-width="0.2" textLength="11.54" lengthAdjust="spacingAndGlyphs" >2000</text>
<text x="236.80" y="607.68" font-size="7.4" text-anchor="end" font-weight="normal" fill="#111" font-family="Liberation Serif" stroke="#111" stroke-width="0.2" textLength="11.54" lengthAdjust="spacingAndGlyphs" >3000</text>
<text x="236.80" y="580.60" font-size="7.4" text-anchor="end" font-weight="normal" fill="#111" font-family="Liberation Serif" stroke="#111" stroke-width="0.2" textLength="11.54" lengthAdjust="spacingAndGlyphs" >4000</text>
<text x="236.80" y="553.51" font-size="7.4" text-anchor="end" font-weight="normal" fill="#111" font-family="Liberation Serif" stroke="#111" stroke-width="0.2" textLength="11.54" lengthAdjust="spacingAndGlyphs" >5000</text>
<text x="236.80" y="526.43" font-size="7.4" text-anchor="end" font-weight="normal" fill="#111" font-family="Liberation Serif" stroke="#111" stroke-width="0.2" textLength="11.54" lengthAdjust="spacingAndGlyphs" >6000</text>
<text x="236.80" y="499.34" font-size="7.4" text-anchor="end" font-weight="normal" fill="#111" font-family="Liberation Serif" stroke="#111" stroke-width="0.2" textLength="11.54" lengthAdjust="spacingAndGlyphs" >7000</text>
<polyline points="248.50,625.58 251.21,624.79 253.93,623.94 256.64,623.01 259.35,622.02 262.06,620.95 264.78,619.81 267.49,618.59 270.20,617.29 272.92,615.91 275.63,614.46 278.34,612.94 281.06,611.34 283.77,609.68 286.48,607.95 289.19,606.17 291.91,604.34 294.62,602.45 297.33,600.53 300.05,598.56 302.76,596.55 305.47,594.51 308.19,592.45 310.90,590.35 313.61,588.23 316.32,586.09 319.04,583.93 321.75,581.75 324.46,579.55 327.18,577.34 329.89,575.11 332.60,572.88 335.31,570.63 338.03,568.37 340.74,566.10 343.45,563.82 346.17,561.54 348.88,559.24 351.59,556.94 354.31,554.64 357.02,552.32 359.73,550.01 362.44,547.68 365.16,545.36 367.87,543.03 370.58,540.69 373.30,538.35 376.01,536.01 378.72,533.66 381.44,531.31 384.15,528.96 386.86,526.60 389.57,524.25 392.29,521.89 395.00,519.53 397.71,517.16 400.43,514.79 403.14,512.43 405.85,510.06 408.57,507.68 411.28,505.31" fill="none" stroke="#d3d3d3" stroke-width="1" stroke-dasharray="3 2.2"/>
<polyline points="248.50,663.78 251.21,662.06 253.93,660.41 256.64,658.82 259.35,657.31 262.06,655.87 264.78,654.51 267.49,653.22 270.20,652.01 272.92,650.88 275.63,649.83 278.34,648.85 281.06,647.93 283.77,647.09 286.48,646.31 289.19,645.58 291.91,644.91 294.62,644.29 297.33,643.71 300.05,643.17 302.76,642.67 305.47,642.20 308.19,641.76 310.90,641.34 313.61,640.96 316.32,640.59 319.04,640.25 321.75,639.92 324.46,639.61 327.18,639.31 329.89,639.03 332.60,638.76 335.31,638.51 338.03,638.26 340.74,638.02 343.45,637.79 346.17,637.57 348.88,637.35 351.59,637.15 354.31,636.95 357.02,636.75 359.73,636.56 362.44,636.38 365.16,636.20 367.87,636.02 370.58,635.85 373.30,635.68 376.01,635.52 378.72,635.36 381.44,635.20 384.15,635.05 386.86,634.89 389.57,634.74 392.29,634.60 395.00,634.45 397.71,634.31 400.43,634.17 403.14,634.03 405.85,633.89 408.57,633.76 411.28,633.62" fill="none" stroke="#d3d3d3" stroke-width="1" stroke-dasharray="3 2.2"/>
<line x1="248.50" y1="644.68" x2="411.28" y2="569.47" stroke="#505050" stroke-width="1"/>
<text x="330.00" y="712.00" font-size="7.6" text-anchor="middle" font-weight="normal" fill="#222" font-family="Liberation Sans" stroke="#222" stroke-width="0.3" textLength="25.80" lengthAdjust="spacingAndGlyphs" >Rosaceae</text>
<text x="222.70" y="593.90" font-size="7.0" text-anchor="middle" font-weight="bold" fill="#222" font-family="Liberation Sans" textLength="94.60" lengthAdjust="spacingAndGlyphs" transform="rotate(-90 222.70 593.90)" >Aerobic mesophiles (cfu/g)</text>
</svg>
</body></html>
